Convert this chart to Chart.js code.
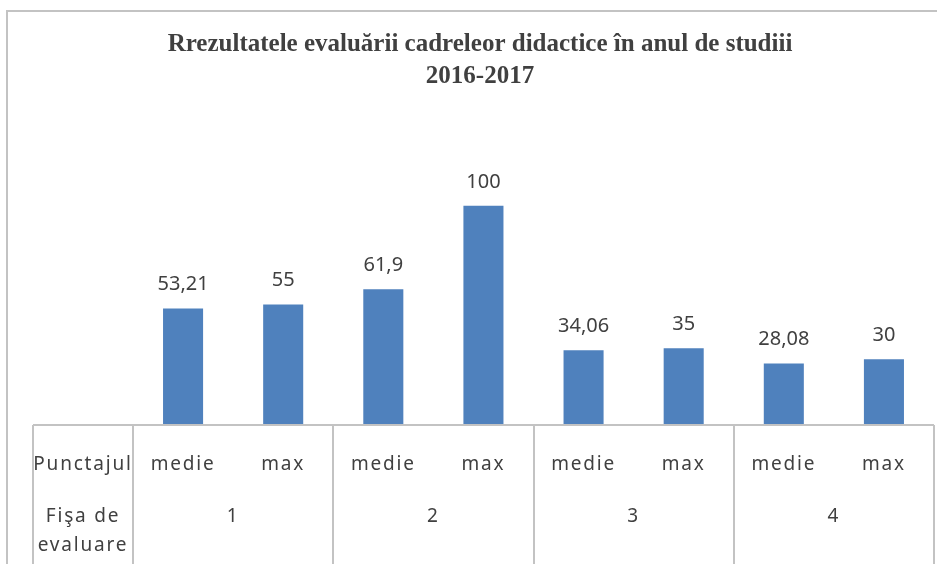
<!DOCTYPE html>
<html>
<head>
<meta charset="utf-8">
<script src="https://cdn.jsdelivr.net/npm/chart.js@4/dist/chart.umd.min.js"></script>
<style>
    html, body { margin: 0; padding: 0; background: #fff; }
    #wrap { width: 937px; height: 564px; }
</style>
</head>
<body>
<div id="wrap"><canvas id="chart" width="937" height="564"></canvas></div>
<script>
// data
const titleLines = ['Rrezultatele evaluării cadreleor didactice în anul de studiii', '2016-2017'];
const groups = ['1', '2', '3', '4'];
const subLabels = ['medie', 'max', 'medie', 'max', 'medie', 'max', 'medie', 'max'];
const values = [53.21, 55, 61.9, 100, 34.06, 35, 28.08, 30];
const rowHeaders = ['Punctajul', ['Fişa de', 'evaluare']];

const barColor = '#4F81BD';
const textColor = '#404040';
const lineColor = '#c3c3c3';
const sansFont = '"Noto Sans", "Open Sans", sans-serif';

function fmt(v) {
    return String(v).replace('.', ',');
}

// frame, title, value labels and the table under the axis
const decorPlugin = {
    id: 'decor',
    beforeDraw(chart) {
        const ctx = chart.ctx;
        ctx.save();
        ctx.fillStyle = '#fff';
        ctx.fillRect(0, 0, chart.width, chart.height);
        ctx.strokeStyle = lineColor;
        ctx.lineWidth = 2;
        ctx.beginPath();
        ctx.moveTo(7, chart.height);
        ctx.lineTo(7, 11);
        ctx.lineTo(chart.width, 11);
        ctx.stroke();
        ctx.restore();
    },
    afterDraw(chart) {
        const ctx = chart.ctx;
        const area = chart.chartArea;
        const x = chart.scales.x;
        const meta = chart.getDatasetMeta(0);
        const step = x.getPixelForValue(1) - x.getPixelForValue(0);
        ctx.save();

        // title
        ctx.fillStyle = textColor;
        ctx.textAlign = 'center';
        ctx.textBaseline = 'middle';
        ctx.font = 'bold 25px "Liberation Serif", "Times New Roman", serif';
        titleLines.forEach((t, i) => ctx.fillText(t, 480, 45 + i * 32));

        // value labels
        ctx.font = '20px ' + sansFont;
        ctx.textBaseline = 'middle';
        meta.data.forEach((bar, i) => {
            ctx.fillText(fmt(values[i]), bar.x, bar.y - 24);
        });

        // table lines
        const tableLeft = 33;
        const bottom = chart.height;
        ctx.strokeStyle = lineColor;
        ctx.lineWidth = 2;
        ctx.beginPath();
        ctx.moveTo(tableLeft, area.bottom);
        ctx.lineTo(area.right, area.bottom);
        ctx.moveTo(tableLeft, area.bottom);
        ctx.lineTo(tableLeft, bottom);
        for (let g = 0; g <= groups.length; g++) {
            const px = Math.round(x.getPixelForValue(g * 2) - step / 2);
            ctx.moveTo(px, area.bottom);
            ctx.lineTo(px, bottom);
        }
        ctx.stroke();

        // table text
        ctx.fillStyle = textColor;
        ctx.font = '19px ' + sansFont;
        ctx.letterSpacing = '1.8px';
        const headX = (tableLeft + area.left) / 2;
        ctx.fillText(rowHeaders[0], headX, 465);
        rowHeaders[1].forEach((t, i) => ctx.fillText(t, headX, 517 + i * 29));
        subLabels.forEach((s, i) => ctx.fillText(s, x.getPixelForValue(i), 465));
        groups.forEach((g, i) => {
            const cx = (x.getPixelForValue(i * 2) + x.getPixelForValue(i * 2 + 1)) / 2;
            ctx.fillText(g, cx, 517);
        });
        ctx.restore();
    }
};

new Chart(document.getElementById('chart'), {
    type: 'bar',
    data: {
        labels: subLabels,
        datasets: [{
            data: values,
            backgroundColor: barColor,
            barPercentage: 0.4,
            categoryPercentage: 1.0
        }]
    },
    options: {
        responsive: false,
        animation: false,
        layout: { padding: { left: 133, right: 3, top: 162, bottom: 139 } },
        plugins: {
            legend: { display: false },
            tooltip: { enabled: false },
            title: { display: false }
        },
        scales: {
            x: { display: false },
            y: { display: false, min: 0, max: 120 }
        }
    },
    plugins: [decorPlugin]
});
</script>
</body>
</html>
